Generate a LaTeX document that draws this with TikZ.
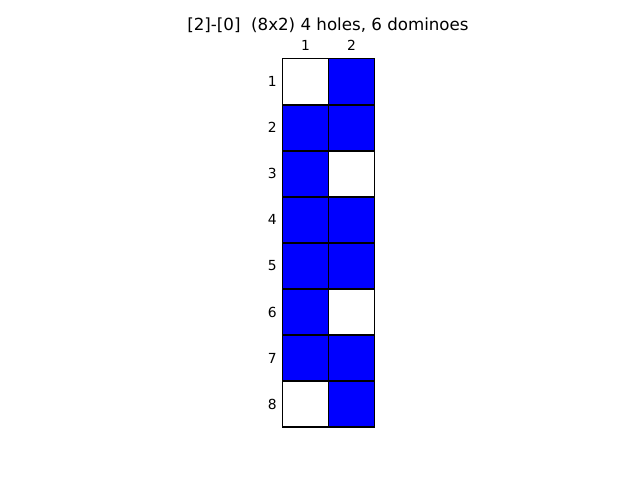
\documentclass[tikz,border=0pt]{standalone}
\usepackage{fontspec}
\setmainfont{DejaVu Sans}
\begin{document}
\begin{tikzpicture}[x=0.75pt,y=-0.75pt,
  cell/.style={draw=black,line width=1.4pt},
  full/.style={cell,fill=blue},
  hole/.style={cell,fill=white},
  lbl/.style={font=\fontsize{10.4}{12}\selectfont,inner sep=0pt},
  ttl/.style={font=\fontsize{12.5}{15}\selectfont,inner sep=0pt}]
\useasboundingbox[fill=white] (0,0) rectangle (640,480);
\def\cw{46}\def\ch{46.1}
\foreach \r/\c/\t in {1/1/hole,1/2/full,2/1/full,2/2/full,3/1/full,3/2/hole,4/1/full,4/2/full,5/1/full,5/2/full,6/1/full,6/2/hole,7/1/full,7/2/full,8/1/hole,8/2/full}{
  \path[\t] ({282.5+(\c-1)*\cw},{58.5+(\r-1)*\ch}) rectangle ++(\cw,\ch);
}
\foreach \r in {1,...,8}{
  \node[lbl,anchor=east] (r\r) at (277,{58.5+(\r-0.5)*\ch}) {\r};
}
\foreach \c in {1,2}{
  \node[lbl] (c\c) at ({282.5+(\c-0.5)*\cw},45) {\c};
}
\node[ttl] (title) at (328,25) {[2]-[0]\ \ (8x2) 4 holes, 6 dominoes};
\end{tikzpicture}
\end{document}
